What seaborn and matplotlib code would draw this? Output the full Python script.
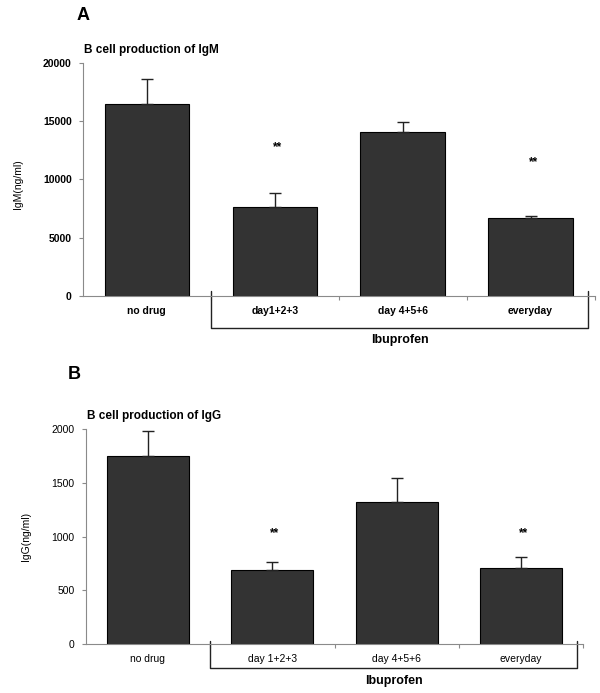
import matplotlib
matplotlib.use("Agg")
import matplotlib.pyplot as plt
import matplotlib.transforms as mtransforms
import seaborn as sns
import pandas as pd

# ---- data ----
labels_igm = ["no drug", "day1+2+3", "day 4+5+6", "everyday"]
igm_mean = [16500, 7650, 14100, 6700]
igm_err = [2150, 1200, 850, 180]
igm_star = [None, 12750, None, 11500]   # height of the "**" marks

labels_igg = ["no drug", "day 1+2+3", "day 4+5+6", "everyday"]
igg_mean = [1750, 690, 1320, 705]
igg_err = [230, 70, 225, 105]
igg_star = [None, 1035, None, 1035]

sns.set_theme(style="white")
plt.rcParams['font.family'] = ['Liberation Sans', 'DejaVu Sans']
plt.rcParams['text.color'] = 'black'
plt.rcParams['axes.labelcolor'] = 'black'

fig = plt.figure(figsize=(6, 6.93), dpi=100)
axA = fig.add_axes([0.138, 0.573, 0.853, 0.336])
axB = fig.add_axes([0.143, 0.0707, 0.829, 0.310])

GRAY = "#8a8a8a"


def panel(ax, labels, means, errs, stars, ymax, step, ylabel, title, bold_ticks, ylab_xy):
    df = pd.DataFrame({"group": labels, "value": means})
    sns.barplot(data=df, x="group", y="value", ax=ax, color="#333333",
                edgecolor="black", linewidth=0.8, width=0.66, saturation=1)
    xs = range(len(labels))
    ax.errorbar(xs, means, yerr=[[0] * len(errs), errs], fmt="none",
                ecolor="#222222", elinewidth=1.0, capsize=4, capthick=1.0)
    for i, s in enumerate(stars):
        if s is not None:
            ax.text(i + 0.02, s, "**", ha="center", va="center",
                    fontsize=8.5, fontweight="bold")
    ax.set_xlim(-0.5, len(labels) - 0.5)
    ax.set_ylim(0, ymax)
    ax.set_yticks(range(0, ymax + 1, step))
    ax.set_xlabel("")
    ax.set_ylabel(ylabel, fontsize=7.5)
    ax.yaxis.set_label_coords(*ylab_xy)
    fw = "bold" if bold_ticks else "normal"
    ax.set_yticklabels([str(v) for v in range(0, ymax + 1, step)], fontsize=7.5, fontweight=fw)
    ax.set_xticks(list(xs))
    ax.set_xticklabels(labels, fontsize=7.5, fontweight=fw)
    ax.tick_params(axis="x", length=0, pad=7, labelcolor="black")
    ax.tick_params(axis="y", length=3, width=0.8, color=GRAY, left=True, pad=5, labelcolor="black")
    ax.set_xticks([0.5, 1.5, 2.5, len(labels) - 0.5], minor=True)
    ax.tick_params(axis="x", which="minor", length=3, width=0.8, color=GRAY, bottom=True)
    for side in ["top", "right"]:
        ax.spines[side].set_visible(False)
    for side in ["left", "bottom"]:
        ax.spines[side].set_color(GRAY)
        ax.spines[side].set_linewidth(0.8)
    ax.set_title(title, loc="left", fontsize=8.5, fontweight="bold", pad=7, x=0.003)


panel(axA, labels_igm, igm_mean, igm_err, igm_star, 20000, 5000, "IgM(ng/ml)",
      "B cell production of IgM", True, (-0.117, 0.48))
panel(axB, labels_igg, igg_mean, igg_err, igg_star, 2000, 500, "IgG(ng/ml)",
      "B cell production of IgG", False, (-0.111, 0.50))

# panel letters
fig.text(77 / 600, 1 - 7 / 693, "A", fontsize=13, fontweight="bold", ha="left", va="top")
fig.text(68 / 600, 1 - 366 / 693, "B", fontsize=13, fontweight="bold", ha="left", va="top")

# bracket grouping the ibuprofen treatments
for ax, top, bot, right, lab_y in [(axA, 0.021, -0.137, 3.45, -0.19), (axB, 0.014, -0.112, 3.45, -0.17)]:
    tr = mtransforms.blended_transform_factory(ax.transData, ax.transAxes)
    ax.plot([0.5, 0.5, right, right], [top, bot, bot, top], transform=tr,
            color="#222222", lw=1.0, clip_on=False)
    ax.text((0.5 + right) / 2, lab_y, "Ibuprofen", transform=tr, ha="center", va="center",
            fontsize=9, fontweight="bold")

fig.savefig("out.png", dpi=100)
